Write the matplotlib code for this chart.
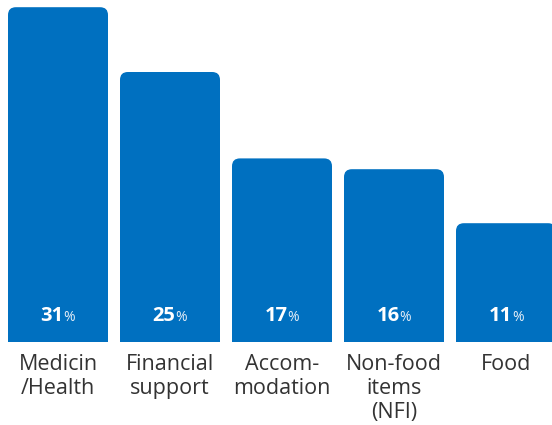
import matplotlib
matplotlib.use("Agg")
import matplotlib.pyplot as plt
from matplotlib.patches import FancyBboxPatch
from matplotlib.offsetbox import TextArea, HPacker, AnnotationBbox

plt.rcParams["font.family"] = ["Open Sans", "DejaVu Sans"]

categories = ["Medicin\n/Health", "Financial\nsupport", "Accom-\nmodation",
              "Non-food\nitems\n(NFI)", "Food"]
values = [31, 25, 17, 16, 11]

BAR_COLOR = "#0070c0"
W = 100 / 112  # bar width in data units (pitch = 1)

fig = plt.figure(figsize=(5.52, 4.25), dpi=100)
ax = fig.add_axes([0, 1 - 342 / 425, 1, 342 / 425])
ax.set_xlim(-58 / 112, -58 / 112 + 552 / 112)
ax.set_ylim(0, 342 / 10.8)
ax.axis("off")

# px -> data aspect for rounded corners
aspect = (342 / 10.8 / 342) / (552 / 112 / 552)
for i, v in enumerate(values):
    box = FancyBboxPatch((i - W / 2, -3), W, v + 3,
                         boxstyle="round,pad=0,rounding_size=0.07",
                         mutation_aspect=aspect,
                         fc=BAR_COLOR, ec="none")
    ax.add_patch(box)

    num = TextArea(f"{v}", textprops=dict(color="white", fontsize=14.5,
                                          fontweight="bold"))
    pct = TextArea("%", textprops=dict(color="#e6eef7", fontsize=10))
    pack = HPacker(children=[num, pct], align="baseline", pad=0, sep=0)
    ab = AnnotationBbox(pack, (i, 1.45), xycoords="data", frameon=False,
                        box_alignment=(0.5, 0.0), pad=0, annotation_clip=False)
    ax.add_artist(ab)

    ax.text(i, -1.1, categories[i], ha="center", va="top", fontsize=15.5,
            color="#333333", linespacing=1.2, clip_on=False)

fig.savefig("out.png", dpi=100)
